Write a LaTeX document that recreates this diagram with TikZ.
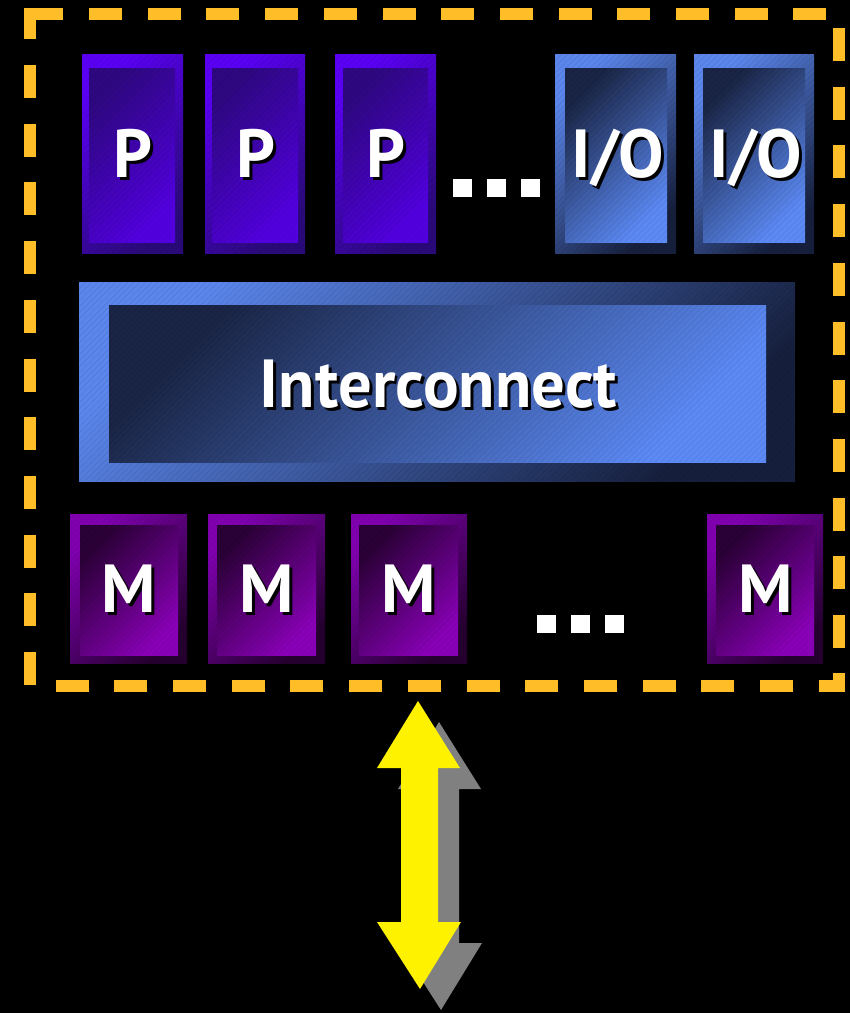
\documentclass[tikz,border=0pt]{standalone}
\usepackage{fontspec}
\setmainfont{PT Sans}
\definecolor{pOutA}{HTML}{5A00F5}
\definecolor{pOutB}{HTML}{2A0A78}
\definecolor{pInA}{HTML}{2E0880}
\definecolor{pInB}{HTML}{5200E0}
\definecolor{bOutA}{HTML}{5B86EC}
\definecolor{bOutB}{HTML}{161F3C}
\definecolor{bInA}{HTML}{1A2545}
\definecolor{bInB}{HTML}{5C8AF5}
\definecolor{mOutA}{HTML}{8000B0}
\definecolor{mOutB}{HTML}{25002F}
\definecolor{mInA}{HTML}{2A0036}
\definecolor{mInB}{HTML}{8A00B8}
\definecolor{border}{HTML}{FFBE28}
\definecolor{arrowshadow}{HTML}{808080}
\newcommand\shtext[1]{\makebox[0pt][l]{\hspace{3pt}\raisebox{-3pt}{\color{black}#1}}{\color{white}#1}}
\tikzset{
  hatch/.style={path picture={
    \foreach \i in {0,6,...,936}
      \draw[black, opacity=0.1, line width=0.5pt]
        ([xshift=\i pt-210pt]path picture bounding box.south west) -- ++(220pt,220pt);}},
  boxbase/.style={shape=rectangle, inner sep=0pt, outer sep=0pt, hatch},
  outerP/.style={boxbase, top color=pOutA, bottom color=pOutB, shading angle=45},
  innerP/.style={boxbase, top color=pInA, bottom color=pInB, shading angle=45},
  outerB/.style={boxbase, top color=bOutA, bottom color=bOutB, shading angle=45},
  innerB/.style={boxbase, top color=bInA, bottom color=bInB, shading angle=45},
  outerM/.style={boxbase, top color=mOutA, bottom color=mOutB, shading angle=45},
  innerM/.style={boxbase, top color=mInA, bottom color=mInB, shading angle=45},
  lbl/.style={anchor=base, inner sep=0pt, font=\fontsize{68}{68}\selectfont\bfseries},
  dot/.style={shape=rectangle, fill=white, inner sep=0pt, minimum width=19pt, minimum height=18pt},
  frame/.style={draw=border, line width=12pt, line cap=butt, dash pattern=on 33pt off 25.7pt},
  framecorner/.style={draw=border, line width=12pt, line cap=butt, line join=miter},
}
\begin{document}
\begin{tikzpicture}[x=1pt,y=-1pt]
\fill[black] (0,0) rectangle (850,1013);
\useasboundingbox (0,0) rectangle (850,1013);

% processors
\node[outerP, minimum width=101pt, minimum height=199pt] (p1) at (132.5,153.5) {};
\node[innerP, minimum width=86pt, minimum height=174pt] (p1i) at (132,155) {};
\node[lbl] (p1t) at (133,177) {\shtext{P}};
\node[outerP, minimum width=100pt, minimum height=199pt] (p2) at (255,153.5) {};
\node[innerP, minimum width=86pt, minimum height=174pt] (p2i) at (255,155) {};
\node[lbl] (p2t) at (256,177) {\shtext{P}};
\node[outerP, minimum width=101pt, minimum height=199pt] (p3) at (385.5,153.5) {};
\node[innerP, minimum width=85pt, minimum height=174pt] (p3i) at (385.5,155) {};
\node[lbl] (p3t) at (386,177) {\shtext{P}};

% top dots
\node[dot] (td1) at (462.5,188) {};
\node[dot] (td2) at (496.5,188) {};
\node[dot] (td3) at (530.5,188) {};

% I/O
\node[outerB, minimum width=121pt, minimum height=199pt] (io1) at (615.5,153.5) {};
\node[innerB, minimum width=102pt, minimum height=174pt] (io1i) at (616,155) {};
\node[lbl] (io1t) at (618,177) {\shtext{I/O}};
\node[outerB, minimum width=120pt, minimum height=199pt] (io2) at (754,153.5) {};
\node[innerB, minimum width=102pt, minimum height=174pt] (io2i) at (754,155) {};
\node[lbl] (io2t) at (756,177) {\shtext{I/O}};

% interconnect
\node[outerB, minimum width=716pt, minimum height=199pt] (ic) at (437,381.5) {};
\node[innerB, minimum width=657pt, minimum height=157pt] (ici) at (437.5,383.5) {};
\node[lbl] (ict) at (438.5,407) {\scalebox{0.98}[1]{\shtext{Interconnect}}};

% memories
\node[outerM, minimum width=117pt, minimum height=149pt] (m1) at (128.5,588.5) {};
\node[innerM, minimum width=98pt, minimum height=130pt] (m1i) at (129,590) {};
\node[lbl] (m1t) at (129,612) {\shtext{M}};
\node[outerM, minimum width=117pt, minimum height=149pt] (m2) at (266.5,588.5) {};
\node[innerM, minimum width=99pt, minimum height=130pt] (m2i) at (266.5,590) {};
\node[lbl] (m2t) at (267,612) {\shtext{M}};
\node[outerM, minimum width=116pt, minimum height=149pt] (m3) at (409,588.5) {};
\node[innerM, minimum width=99pt, minimum height=130pt] (m3i) at (408.5,590) {};
\node[lbl] (m3t) at (409,612) {\shtext{M}};
\node[outerM, minimum width=116pt, minimum height=149pt] (m4) at (765,588.5) {};
\node[innerM, minimum width=98pt, minimum height=130pt] (m4i) at (765,590) {};
\node[lbl] (m4t) at (766,612) {\shtext{M}};

% bottom dots
\node[dot] (bd1) at (546.5,624) {};
\node[dot] (bd2) at (580.5,624) {};
\node[dot] (bd3) at (614.5,624) {};

% dashed frame
\draw[framecorner] (30,39) -- (30,14) -- (63,14);
\draw[frame] (89,14) -- (827,14);
\draw[frame] (839,28) -- (839,650);
\draw[framecorner] (839,673) -- (839,686) -- (819,686);
\draw[frame] (793,686) -- (56,686);
\draw[frame] (30,685) -- (30,64);

% double arrow with shadow
\fill[arrowshadow] (439,722) -- (481,789) -- (459,789) -- (459,943) -- (482,943) -- (441,1010) -- (398,943) -- (422,943) -- (422,789) -- (398,789) -- cycle;
\fill[yellow] (418,701) -- (460,768) -- (438,768) -- (438,922) -- (461,922) -- (420,989) -- (377,922) -- (401,922) -- (401,768) -- (377,768) -- cycle;
\end{tikzpicture}
\end{document}
